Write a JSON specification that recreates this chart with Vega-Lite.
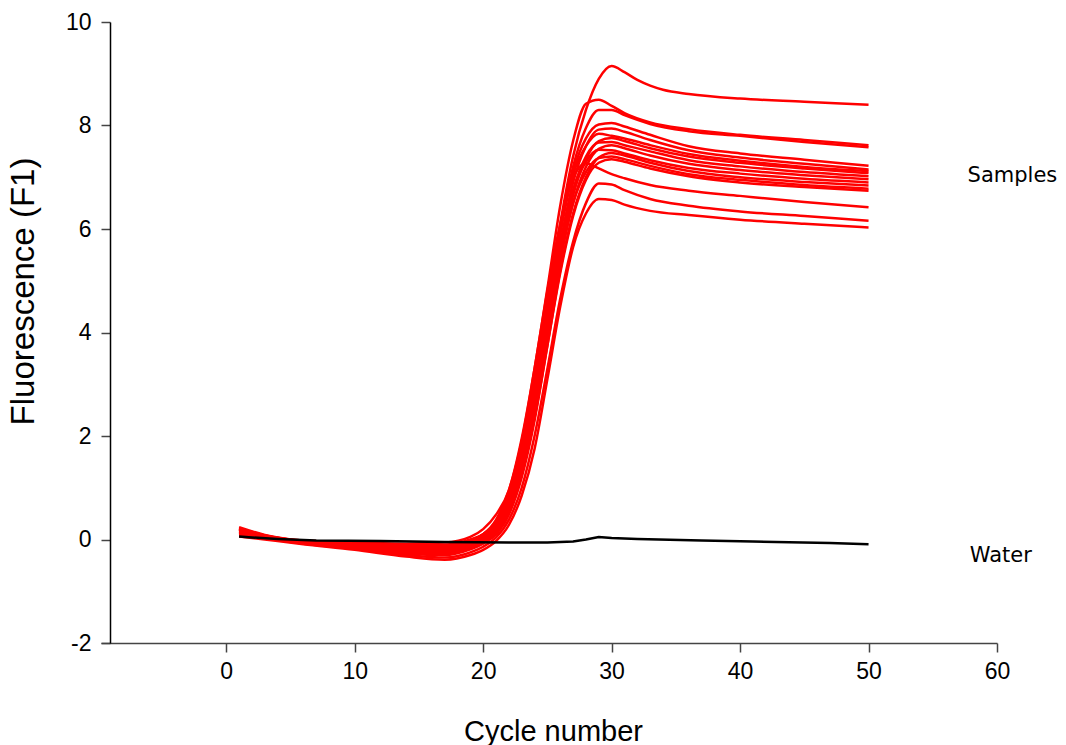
{
"$schema":"https://vega.github.io/schema/vega-lite/v6.json",
"width":896,"height":621,
"autosize":{"type":"none"},
"padding":{"left":101,"top":22,"right":69,"bottom":102},
"background":"white",
"config":{"view":{"stroke":null},"axis":{"grid":false,"labelFont":"Liberation Sans","titleFont":"Liberation Sans","labelFontSize":22,"labelColor":"#000","titleColor":"#000","titleFontWeight":"normal","labelFlush":false}},
"layer":[
{"data":{"values":[
{"id":"A","c":1,"f":0.18},{"id":"A","c":3,"f":0.06},{"id":"A","c":6,"f":-0.03},{"id":"A","c":10,"f":-0.08},{"id":"A","c":14,"f":-0.12},{"id":"A","c":17,"f":-0.12},{"id":"A","c":19,"f":-0.03},{"id":"A","c":20,"f":0.08},{"id":"A","c":21,"f":0.3},{"id":"A","c":22,"f":0.75},{"id":"A","c":23,"f":1.6},{"id":"A","c":24,"f":2.9},{"id":"A","c":25,"f":4.5},{"id":"A","c":26,"f":6.1},{"id":"A","c":27,"f":7.4},{"id":"A","c":28,"f":8.3},{"id":"A","c":29,"f":8.9},{"id":"A","c":30,"f":9.15},{"id":"A","c":31,"f":9.03},{"id":"A","c":32,"f":8.88},{"id":"A","c":33,"f":8.77},{"id":"A","c":34,"f":8.69},{"id":"A","c":36,"f":8.61},{"id":"A","c":40,"f":8.52},{"id":"A","c":45,"f":8.46},{"id":"A","c":50,"f":8.4},
{"id":"B","c":1,"f":0.22},{"id":"B","c":3,"f":0.08},{"id":"B","c":6,"f":-0.02},{"id":"B","c":10,"f":-0.05},{"id":"B","c":14,"f":-0.08},{"id":"B","c":17,"f":-0.06},{"id":"B","c":19,"f":0.05},{"id":"B","c":20,"f":0.2},{"id":"B","c":21,"f":0.48},{"id":"B","c":22,"f":0.95},{"id":"B","c":23,"f":1.95},{"id":"B","c":24,"f":3.3},{"id":"B","c":25,"f":4.85},{"id":"B","c":26,"f":6.45},{"id":"B","c":27,"f":7.7},{"id":"B","c":28,"f":8.42},{"id":"B","c":29,"f":8.5},{"id":"B","c":30,"f":8.38},{"id":"B","c":31,"f":8.24},{"id":"B","c":33,"f":8.06},{"id":"B","c":36,"f":7.93},{"id":"B","c":40,"f":7.82},{"id":"B","c":45,"f":7.72},{"id":"B","c":50,"f":7.62},
{"id":"C","c":1,"f":0.2},{"id":"C","c":3,"f":0.07},{"id":"C","c":6,"f":-0.03},{"id":"C","c":10,"f":-0.07},{"id":"C","c":14,"f":-0.1},{"id":"C","c":17,"f":-0.1},{"id":"C","c":19,"f":0.0},{"id":"C","c":20,"f":0.1},{"id":"C","c":21,"f":0.35},{"id":"C","c":22,"f":0.85},{"id":"C","c":23,"f":1.75},{"id":"C","c":24,"f":3.1},{"id":"C","c":25,"f":4.6},{"id":"C","c":26,"f":6.0},{"id":"C","c":27,"f":7.2},{"id":"C","c":28,"f":7.95},{"id":"C","c":29,"f":8.3},{"id":"C","c":30,"f":8.3},{"id":"C","c":31,"f":8.2},{"id":"C","c":33,"f":8.03},{"id":"C","c":36,"f":7.89},{"id":"C","c":40,"f":7.8},{"id":"C","c":45,"f":7.68},{"id":"C","c":50,"f":7.58},
{"id":"D1","c":1,"f":0.2},{"id":"D1","c":3,"f":0.07},{"id":"D1","c":6,"f":-0.04},{"id":"D1","c":10,"f":-0.1},{"id":"D1","c":14,"f":-0.15},{"id":"D1","c":17,"f":-0.15},{"id":"D1","c":19,"f":-0.05},{"id":"D1","c":20,"f":0.05},{"id":"D1","c":21,"f":0.28},{"id":"D1","c":22,"f":0.75},{"id":"D1","c":23,"f":1.6},{"id":"D1","c":24,"f":2.85},{"id":"D1","c":25,"f":4.4},{"id":"D1","c":26,"f":5.9},{"id":"D1","c":27,"f":7.1},{"id":"D1","c":28,"f":7.75},{"id":"D1","c":29,"f":8.02},{"id":"D1","c":30,"f":8.05},{"id":"D1","c":31,"f":7.98},{"id":"D1","c":33,"f":7.82},{"id":"D1","c":36,"f":7.6},{"id":"D1","c":40,"f":7.46},{"id":"D1","c":45,"f":7.34},{"id":"D1","c":50,"f":7.22},
{"id":"D2","c":1,"f":0.15},{"id":"D2","c":3,"f":0.05},{"id":"D2","c":6,"f":-0.05},{"id":"D2","c":10,"f":-0.12},{"id":"D2","c":14,"f":-0.2},{"id":"D2","c":17,"f":-0.2},{"id":"D2","c":19,"f":-0.1},{"id":"D2","c":20,"f":0.0},{"id":"D2","c":21,"f":0.22},{"id":"D2","c":22,"f":0.65},{"id":"D2","c":23,"f":1.45},{"id":"D2","c":24,"f":2.65},{"id":"D2","c":25,"f":4.2},{"id":"D2","c":26,"f":5.7},{"id":"D2","c":27,"f":6.9},{"id":"D2","c":28,"f":7.6},{"id":"D2","c":29,"f":7.92},{"id":"D2","c":30,"f":7.94},{"id":"D2","c":31,"f":7.88},{"id":"D2","c":33,"f":7.72},{"id":"D2","c":36,"f":7.52},{"id":"D2","c":40,"f":7.38},{"id":"D2","c":45,"f":7.26},{"id":"D2","c":50,"f":7.15},
{"id":"D3","c":1,"f":0.24},{"id":"D3","c":3,"f":0.09},{"id":"D3","c":6,"f":-0.02},{"id":"D3","c":10,"f":-0.06},{"id":"D3","c":14,"f":-0.1},{"id":"D3","c":17,"f":-0.12},{"id":"D3","c":19,"f":-0.02},{"id":"D3","c":20,"f":0.1},{"id":"D3","c":21,"f":0.35},{"id":"D3","c":22,"f":0.85},{"id":"D3","c":23,"f":1.75},{"id":"D3","c":24,"f":3.05},{"id":"D3","c":25,"f":4.55},{"id":"D3","c":26,"f":6.0},{"id":"D3","c":27,"f":7.05},{"id":"D3","c":28,"f":7.6},{"id":"D3","c":29,"f":7.84},{"id":"D3","c":30,"f":7.8},{"id":"D3","c":31,"f":7.75},{"id":"D3","c":33,"f":7.62},{"id":"D3","c":36,"f":7.45},{"id":"D3","c":40,"f":7.32},{"id":"D3","c":45,"f":7.2},{"id":"D3","c":50,"f":7.12},
{"id":"D4","c":1,"f":0.12},{"id":"D4","c":3,"f":0.04},{"id":"D4","c":6,"f":-0.06},{"id":"D4","c":10,"f":-0.14},{"id":"D4","c":14,"f":-0.24},{"id":"D4","c":17,"f":-0.26},{"id":"D4","c":19,"f":-0.15},{"id":"D4","c":20,"f":-0.05},{"id":"D4","c":21,"f":0.15},{"id":"D4","c":22,"f":0.55},{"id":"D4","c":23,"f":1.3},{"id":"D4","c":24,"f":2.45},{"id":"D4","c":25,"f":3.95},{"id":"D4","c":26,"f":5.45},{"id":"D4","c":27,"f":6.65},{"id":"D4","c":28,"f":7.35},{"id":"D4","c":29,"f":7.7},{"id":"D4","c":30,"f":7.76},{"id":"D4","c":31,"f":7.7},{"id":"D4","c":33,"f":7.56},{"id":"D4","c":36,"f":7.4},{"id":"D4","c":40,"f":7.28},{"id":"D4","c":45,"f":7.17},{"id":"D4","c":50,"f":7.08},
{"id":"D5","c":1,"f":0.19},{"id":"D5","c":3,"f":0.06},{"id":"D5","c":6,"f":-0.04},{"id":"D5","c":10,"f":-0.1},{"id":"D5","c":14,"f":-0.17},{"id":"D5","c":17,"f":-0.18},{"id":"D5","c":19,"f":-0.08},{"id":"D5","c":20,"f":0.02},{"id":"D5","c":21,"f":0.25},{"id":"D5","c":22,"f":0.7},{"id":"D5","c":23,"f":1.5},{"id":"D5","c":24,"f":2.7},{"id":"D5","c":25,"f":4.2},{"id":"D5","c":26,"f":5.65},{"id":"D5","c":27,"f":6.75},{"id":"D5","c":28,"f":7.4},{"id":"D5","c":29,"f":7.67},{"id":"D5","c":30,"f":7.68},{"id":"D5","c":31,"f":7.62},{"id":"D5","c":33,"f":7.5},{"id":"D5","c":36,"f":7.33},{"id":"D5","c":40,"f":7.21},{"id":"D5","c":45,"f":7.1},{"id":"D5","c":50,"f":7.02},
{"id":"D6","c":1,"f":0.14},{"id":"D6","c":3,"f":0.04},{"id":"D6","c":6,"f":-0.05},{"id":"D6","c":10,"f":-0.13},{"id":"D6","c":14,"f":-0.22},{"id":"D6","c":17,"f":-0.24},{"id":"D6","c":19,"f":-0.13},{"id":"D6","c":20,"f":-0.03},{"id":"D6","c":21,"f":0.18},{"id":"D6","c":22,"f":0.6},{"id":"D6","c":23,"f":1.35},{"id":"D6","c":24,"f":2.5},{"id":"D6","c":25,"f":3.95},{"id":"D6","c":26,"f":5.4},{"id":"D6","c":27,"f":6.5},{"id":"D6","c":28,"f":7.2},{"id":"D6","c":29,"f":7.55},{"id":"D6","c":30,"f":7.62},{"id":"D6","c":31,"f":7.56},{"id":"D6","c":33,"f":7.42},{"id":"D6","c":36,"f":7.26},{"id":"D6","c":40,"f":7.14},{"id":"D6","c":45,"f":7.04},{"id":"D6","c":50,"f":6.96},
{"id":"D7","c":1,"f":0.21},{"id":"D7","c":3,"f":0.08},{"id":"D7","c":6,"f":-0.03},{"id":"D7","c":10,"f":-0.08},{"id":"D7","c":14,"f":-0.14},{"id":"D7","c":17,"f":-0.15},{"id":"D7","c":19,"f":-0.05},{"id":"D7","c":20,"f":0.06},{"id":"D7","c":21,"f":0.3},{"id":"D7","c":22,"f":0.78},{"id":"D7","c":23,"f":1.62},{"id":"D7","c":24,"f":2.85},{"id":"D7","c":25,"f":4.3},{"id":"D7","c":26,"f":5.7},{"id":"D7","c":27,"f":6.75},{"id":"D7","c":28,"f":7.3},{"id":"D7","c":29,"f":7.53},{"id":"D7","c":30,"f":7.52},{"id":"D7","c":31,"f":7.46},{"id":"D7","c":33,"f":7.33},{"id":"D7","c":36,"f":7.18},{"id":"D7","c":40,"f":7.07},{"id":"D7","c":45,"f":6.97},{"id":"D7","c":50,"f":6.9},
{"id":"D8","c":1,"f":0.1},{"id":"D8","c":3,"f":0.03},{"id":"D8","c":6,"f":-0.07},{"id":"D8","c":10,"f":-0.16},{"id":"D8","c":14,"f":-0.27},{"id":"D8","c":17,"f":-0.3},{"id":"D8","c":19,"f":-0.19},{"id":"D8","c":20,"f":-0.08},{"id":"D8","c":21,"f":0.1},{"id":"D8","c":22,"f":0.48},{"id":"D8","c":23,"f":1.2},{"id":"D8","c":24,"f":2.3},{"id":"D8","c":25,"f":3.75},{"id":"D8","c":26,"f":5.2},{"id":"D8","c":27,"f":6.3},{"id":"D8","c":28,"f":7.0},{"id":"D8","c":29,"f":7.38},{"id":"D8","c":30,"f":7.47},{"id":"D8","c":31,"f":7.42},{"id":"D8","c":33,"f":7.28},{"id":"D8","c":36,"f":7.12},{"id":"D8","c":40,"f":7.0},{"id":"D8","c":45,"f":6.91},{"id":"D8","c":50,"f":6.84},
{"id":"D9","c":1,"f":0.16},{"id":"D9","c":3,"f":0.05},{"id":"D9","c":6,"f":-0.05},{"id":"D9","c":10,"f":-0.12},{"id":"D9","c":14,"f":-0.2},{"id":"D9","c":17,"f":-0.22},{"id":"D9","c":19,"f":-0.12},{"id":"D9","c":20,"f":-0.02},{"id":"D9","c":21,"f":0.2},{"id":"D9","c":22,"f":0.62},{"id":"D9","c":23,"f":1.38},{"id":"D9","c":24,"f":2.55},{"id":"D9","c":25,"f":4.0},{"id":"D9","c":26,"f":5.4},{"id":"D9","c":27,"f":6.5},{"id":"D9","c":28,"f":7.1},{"id":"D9","c":29,"f":7.37},{"id":"D9","c":30,"f":7.4},{"id":"D9","c":31,"f":7.35},{"id":"D9","c":33,"f":7.22},{"id":"D9","c":36,"f":7.06},{"id":"D9","c":40,"f":6.95},{"id":"D9","c":45,"f":6.85},{"id":"D9","c":50,"f":6.78},
{"id":"D10","c":1,"f":0.13},{"id":"D10","c":3,"f":0.04},{"id":"D10","c":6,"f":-0.06},{"id":"D10","c":10,"f":-0.15},{"id":"D10","c":14,"f":-0.26},{"id":"D10","c":17,"f":-0.28},{"id":"D10","c":19,"f":-0.17},{"id":"D10","c":20,"f":-0.06},{"id":"D10","c":21,"f":0.13},{"id":"D10","c":22,"f":0.52},{"id":"D10","c":23,"f":1.25},{"id":"D10","c":24,"f":2.35},{"id":"D10","c":25,"f":3.75},{"id":"D10","c":26,"f":5.15},{"id":"D10","c":27,"f":6.25},{"id":"D10","c":28,"f":6.95},{"id":"D10","c":29,"f":7.28},{"id":"D10","c":30,"f":7.35},{"id":"D10","c":31,"f":7.3},{"id":"D10","c":33,"f":7.17},{"id":"D10","c":36,"f":7.02},{"id":"D10","c":40,"f":6.9},{"id":"D10","c":45,"f":6.81},{"id":"D10","c":50,"f":6.74},
{"id":"E","c":1,"f":0.2},{"id":"E","c":3,"f":0.07},{"id":"E","c":6,"f":-0.03},{"id":"E","c":10,"f":-0.08},{"id":"E","c":14,"f":-0.12},{"id":"E","c":17,"f":-0.12},{"id":"E","c":19,"f":-0.02},{"id":"E","c":20,"f":0.1},{"id":"E","c":21,"f":0.38},{"id":"E","c":22,"f":0.95},{"id":"E","c":23,"f":1.9},{"id":"E","c":24,"f":3.3},{"id":"E","c":25,"f":4.8},{"id":"E","c":26,"f":6.1},{"id":"E","c":27,"f":6.98},{"id":"E","c":28,"f":7.27},{"id":"E","c":29,"f":7.17},{"id":"E","c":30,"f":7.06},{"id":"E","c":31,"f":6.98},{"id":"E","c":33,"f":6.85},{"id":"E","c":36,"f":6.74},{"id":"E","c":40,"f":6.64},{"id":"E","c":45,"f":6.52},{"id":"E","c":50,"f":6.42},
{"id":"F","c":1,"f":0.08},{"id":"F","c":3,"f":0.02},{"id":"F","c":6,"f":-0.08},{"id":"F","c":10,"f":-0.18},{"id":"F","c":14,"f":-0.3},{"id":"F","c":17,"f":-0.35},{"id":"F","c":19,"f":-0.25},{"id":"F","c":20,"f":-0.14},{"id":"F","c":21,"f":0.04},{"id":"F","c":22,"f":0.38},{"id":"F","c":23,"f":1.0},{"id":"F","c":24,"f":2.0},{"id":"F","c":25,"f":3.3},{"id":"F","c":26,"f":4.65},{"id":"F","c":27,"f":5.75},{"id":"F","c":28,"f":6.5},{"id":"F","c":29,"f":6.88},{"id":"F","c":30,"f":6.86},{"id":"F","c":31,"f":6.75},{"id":"F","c":33,"f":6.58},{"id":"F","c":36,"f":6.45},{"id":"F","c":40,"f":6.34},{"id":"F","c":45,"f":6.25},{"id":"F","c":50,"f":6.16},
{"id":"G","c":1,"f":0.06},{"id":"G","c":3,"f":0.0},{"id":"G","c":6,"f":-0.09},{"id":"G","c":10,"f":-0.2},{"id":"G","c":14,"f":-0.33},{"id":"G","c":17,"f":-0.39},{"id":"G","c":19,"f":-0.3},{"id":"G","c":20,"f":-0.2},{"id":"G","c":21,"f":-0.03},{"id":"G","c":22,"f":0.28},{"id":"G","c":23,"f":0.85},{"id":"G","c":24,"f":1.75},{"id":"G","c":25,"f":3.1},{"id":"G","c":26,"f":4.5},{"id":"G","c":27,"f":5.65},{"id":"G","c":28,"f":6.3},{"id":"G","c":29,"f":6.58},{"id":"G","c":30,"f":6.56},{"id":"G","c":31,"f":6.47},{"id":"G","c":33,"f":6.35},{"id":"G","c":36,"f":6.27},{"id":"G","c":40,"f":6.18},{"id":"G","c":45,"f":6.1},{"id":"G","c":50,"f":6.03}
]},
"mark":{"type":"line","interpolate":"monotone","strokeWidth":2.5,"color":"#ff0000"},
"encoding":{
"x":{"field":"c","type":"quantitative","scale":{"domain":[-9.75,60],"nice":false,"zero":false},
"axis":{"values":[0,10,20,30,40,50,60],"labelExpr":"'' + datum.value","title":"Cycle number","domainColor":"#444","domainWidth":1.5,"tickColor":"#444","tickWidth":1.5,"tickSize":9,"labelPadding":8,"labelFontSize":23,"titleFontSize":29,"titleX":452,"titleY":97,"titleBaseline":"alphabetic","titleAlign":"center"}},
"y":{"field":"f","type":"quantitative","scale":{"domain":[-2,10],"nice":false,"zero":false},
"axis":{"values":[-2,0,2,4,6,8,10],"labelExpr":"'' + datum.value","title":"Fluorescence (F1)","offset":-9,"domainColor":"#000","domainWidth":1.5,"tickColor":"#444","tickWidth":1.5,"tickSize":9,"labelPadding":10,"labelFontSize":23,"titleFontSize":33,"titleAngle":-90,"titleX":-77,"titleY":269,"titleBaseline":"alphabetic","titleAlign":"center"}},
"detail":{"field":"id","type":"nominal"}}},
{"data":{"values":[
{"c":1,"f":0.06},{"c":2,"f":0.04},{"c":4,"f":0.01},{"c":7,"f":-0.02},{"c":12,"f":-0.03},{"c":17,"f":-0.05},{"c":22,"f":-0.06},{"c":25,"f":-0.06},{"c":27,"f":-0.04},{"c":28,"f":0.0},{"c":29,"f":0.05},{"c":30,"f":0.03},{"c":32,"f":0.01},{"c":37,"f":-0.02},{"c":41,"f":-0.04},{"c":47,"f":-0.07},{"c":50,"f":-0.09}
]},
"mark":{"type":"line","strokeWidth":2.5,"color":"#000000"},
"encoding":{"x":{"field":"c","type":"quantitative"},"y":{"field":"f","type":"quantitative"}}},
{"data":{"values":[{"label":"Samples","x":61.2,"y":7.02},{"label":"Water","x":60.3,"y":-0.31}]},
"mark":{"type":"text","font":"DejaVu Sans","fontSize":21,"align":"center","baseline":"middle","color":"#000"},
"encoding":{"x":{"field":"x","type":"quantitative"},"y":{"field":"y","type":"quantitative"},"text":{"field":"label","type":"nominal"}}}
]
}
